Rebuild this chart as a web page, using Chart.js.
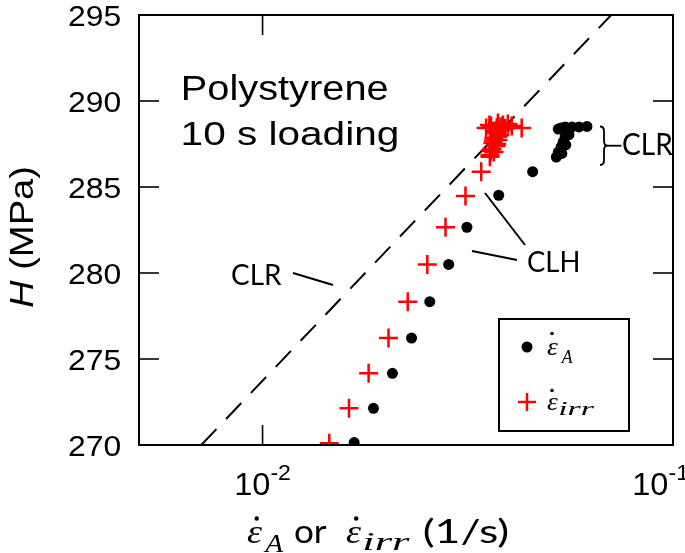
<!DOCTYPE html>
<html>
<head>
<meta charset="utf-8">
<script src="https://cdn.jsdelivr.net/npm/chart.js@4.4.1/dist/chart.umd.min.js"></script>
<style>
  html, body { margin: 0; padding: 0; background: #fff; }
  canvas { display: block; }
</style>
</head>
<body>
<canvas id="chart" width="685" height="553"></canvas>
<script>
// values (rate in 1/s, H in MPa)
const rateA = [0.01672, 0.01863, 0.02072, 0.02307, 0.02555, 0.02841, 0.03147, 0.03762, 0.04550,
  0.05254, 0.05339, 0.05460, 0.05677, 0.05902, 0.06172,
  0.05524, 0.05580, 0.05460, 0.05400, 0.05480, 0.05339, 0.05254, 0.05360, 0.05196];
const hardA = [270.14, 272.13, 274.17, 276.22, 278.33, 280.50, 282.66, 284.52, 285.89,
  288.37, 288.43, 288.49, 288.49, 288.49, 288.52,
  288.20, 288.05, 287.91, 287.62, 287.45, 287.33, 287.03, 286.95, 286.74];

const rateIrr = [0.01454, 0.01624, 0.01813, 0.02027, 0.02258, 0.02520, 0.02791, 0.03122, 0.03410, 0.03581,
  0.03505, 0.03602, 0.03745, 0.03850, 0.03959, 0.04047, 0.04279, 0.03807, 0.03703, 0.03786,
  0.03662, 0.03745, 0.03641, 0.03703, 0.03622, 0.03662, 0.03583,
  0.03720, 0.03800, 0.03680, 0.03750, 0.03650, 0.03720, 0.03600, 0.03900, 0.03570];
const hardIrr = [270.10, 272.13, 274.17, 276.22, 278.33, 280.50, 282.66, 284.48, 285.89, 286.76,
  288.43, 288.55, 288.72, 288.60, 288.66, 288.55, 288.43, 288.31, 288.14, 288.02,
  287.85, 287.73, 287.56, 287.38, 287.21, 287.03, 286.86,
  288.45, 288.50, 288.25, 287.95, 287.70, 287.50, 287.10, 288.40, 288.60];

// CLR guide line (dashed)
const clrRate = [0.00709, 0.0707];
const clrHard = [270, 295];

const xTicks = [0.01, 0.1];
const xTickSup = ['-2', '-1'];
const yTicks = [270, 275, 280, 285, 290, 295];

const SANS = '"Liberation Sans", Arial, sans-serif';
const CAL = 'Lato, "Open Sans", sans-serif';
const SERIF = '"Liberation Serif", "DejaVu Serif", serif';

// draw text; opt.w = ink width to fit, opt.sx = fixed horizontal stretch
function drawText(ctx, text, x, base, font, opt = {}) {
  ctx.save();
  ctx.font = font;
  ctx.textAlign = 'left';
  ctx.textBaseline = 'alphabetic';
  const m = ctx.measureText(text);
  const ink = m.actualBoundingBoxLeft + m.actualBoundingBoxRight;
  const sx = opt.w ? opt.w / ink : (opt.sx || 1);
  const w = ink * sx;
  let left = x;
  if (opt.align === 'right') left = x - w;
  if (opt.align === 'center') left = x - w / 2;
  ctx.translate(left + m.actualBoundingBoxLeft * sx, base);
  ctx.scale(sx, 1);
  ctx.fillText(text, 0, 0);
  ctx.restore();
  return left + w;
}

function dotAbove(ctx, x, y, r) {
  ctx.beginPath();
  ctx.arc(x, y, r, 0, Math.PI * 2);
  ctx.fill();
}

function line(ctx, x1, y1, x2, y2) {
  ctx.beginPath();
  ctx.moveTo(x1, y1);
  ctx.lineTo(x2, y2);
  ctx.stroke();
}

const decor = {
  id: 'decor',
  afterDraw(chart) {
    const { ctx, chartArea: a, scales: { x, y } } = chart;
    ctx.save();
    ctx.strokeStyle = '#000';
    ctx.fillStyle = '#000';

    // frame + inward ticks on all sides
    ctx.lineWidth = 2;
    ctx.strokeRect(a.left, a.top, a.right - a.left, a.bottom - a.top);
    ctx.lineWidth = 1.6;
    y.ticks.forEach((t, i) => {
      const py = y.getPixelForTick(i);
      line(ctx, a.left, py, a.left + 20, py);
      line(ctx, a.right, py, a.right - 20, py);
    });
    x.ticks.forEach((t, i) => {
      const px = x.getPixelForTick(i);
      line(ctx, px, a.bottom, px, a.bottom - 20);
      line(ctx, px, a.top, px, a.top + 20);
    });

    // y tick labels
    y.ticks.forEach((t, i) => {
      const py = y.getPixelForTick(i);
      drawText(ctx, String(t.value), 120, py + 11, '29px ' + SANS, { sx: 1.1, align: 'right' });
    });

    // x tick labels 10^n
    xTicks.forEach((v, i) => {
      const px = x.getPixelForValue(v);
      ctx.font = '31px ' + SANS;
      const w1 = ctx.measureText('10').width * 1.05;
      ctx.font = '22px ' + SANS;
      const w2 = ctx.measureText(xTickSup[i]).width * 1.05;
      const left = Math.min(px - (w1 + w2) / 2, chart.width + 4 - (w1 + w2));
      ctx.save();
      ctx.translate(left, 495);
      ctx.scale(1.05, 1);
      ctx.font = '31px ' + SANS;
      ctx.fillText('10', 0, 0);
      ctx.font = '22px ' + SANS;
      ctx.fillText(xTickSup[i], w1 / 1.05, -15);
      ctx.restore();
    });

    // y axis title
    ctx.save();
    ctx.translate(33, 237);
    ctx.rotate(-Math.PI / 2);
    ctx.font = 'italic 33px ' + SANS;
    const wH = ctx.measureText('H').width;
    ctx.font = '33px ' + SANS;
    const wR = ctx.measureText(' (MPa)').width;
    const s = 142 / (wH + wR);
    ctx.scale(s, 1);
    ctx.font = 'italic 33px ' + SANS;
    ctx.fillText('H', -(wH + wR) / 2, 0);
    ctx.font = '33px ' + SANS;
    ctx.fillText(' (MPa)', -(wH + wR) / 2 + wH, 0);
    ctx.restore();

    // x axis title
    drawText(ctx, 'ε', 247, 543, 'italic 33px ' + SERIF, { w: 15 });
    dotAbove(ctx, 256.7, 518.5, 2.2);
    drawText(ctx, 'A', 263, 552, 'italic 25px ' + SERIF, { w: 21 });
    drawText(ctx, 'or', 295, 543, '32px ' + CAL, { w: 32 });
    drawText(ctx, 'ε', 346, 543, 'italic 33px ' + SERIF, { w: 15 });
    dotAbove(ctx, 356.2, 518.5, 2.2);
    drawText(ctx, 'irr', 364, 550, 'italic 25px ' + SERIF, { w: 46 });
    drawText(ctx, '(1/s)', 424, 543, '33px ' + CAL, { w: 84 });

    // inner labels
    drawText(ctx, 'Polystyrene', 183, 100, '35px ' + SANS, { w: 204 });
    drawText(ctx, '10 s loading', 183, 145, '34px ' + SANS, { w: 214 });

    ctx.lineWidth = 2;
    drawText(ctx, 'CLR', 232, 285, '28px ' + CAL, { w: 50 });
    line(ctx, 293, 273, 333, 285);

    drawText(ctx, 'CLH', 528, 272, '28px ' + CAL, { w: 50 });
    line(ctx, 485, 193, 525, 245);
    line(ctx, 472, 251, 517, 260);

    // brace + CLR on the right
    ctx.lineWidth = 1.8;
    ctx.beginPath();
    ctx.moveTo(600, 126.5);
    ctx.quadraticCurveTo(604, 126.5, 604, 131);
    ctx.lineTo(604, 141);
    ctx.quadraticCurveTo(604, 145.7, 607.5, 145.7);
    ctx.quadraticCurveTo(604, 145.7, 604, 150.5);
    ctx.lineTo(604, 160.5);
    ctx.quadraticCurveTo(604, 165, 600, 165);
    ctx.stroke();
    line(ctx, 607, 145.7, 621.5, 145.7);
    drawText(ctx, 'CLR', 623, 155, '30px ' + CAL, { w: 50 });

    // legend
    ctx.lineWidth = 2;
    ctx.strokeRect(499, 319, 130, 112);
    Chart.helpers.drawPoint(ctx, { pointStyle: 'circle', radius: 5.5, borderWidth: 0 }, 527, 347);
    drawText(ctx, 'ε', 547, 355, 'italic 25px ' + SERIF, { w: 11 });
    dotAbove(ctx, 552, 333.5, 1.8);
    drawText(ctx, 'A', 560, 363, 'italic 19px ' + SERIF, { w: 13 });
    ctx.strokeStyle = '#f00';
    ctx.lineWidth = 2.5;
    Chart.helpers.drawPoint(ctx, { pointStyle: 'cross', radius: 9, borderWidth: 2.5 }, 527, 402);
    drawText(ctx, 'ε', 547, 410, 'italic 25px ' + SERIF, { w: 11 });
    dotAbove(ctx, 552, 390.5, 1.8);
    drawText(ctx, 'irr', 560, 415, 'italic 19px ' + SERIF, { w: 35 });

    ctx.restore();
  }
};

const toPts = (xs, ys) => xs.map((v, i) => ({ x: v, y: ys[i] }));

new Chart(document.getElementById('chart'), {
  type: 'scatter',
  data: {
    datasets: [
      {
        type: 'line',
        data: toPts(clrRate, clrHard),
        borderColor: '#000',
        borderWidth: 2,
        borderDash: [22, 14],
        pointRadius: 0,
        fill: false,
        order: 3
      },
      {
        data: toPts(rateA, hardA),
        pointStyle: 'circle',
        pointRadius: 5.5,
        backgroundColor: '#000',
        borderWidth: 0,
        order: 2
      },
      {
        data: toPts(rateIrr, hardIrr),
        pointStyle: 'cross',
        pointRadius: 9.5,
        borderColor: '#f00',
        borderWidth: 2.5,
        order: 1
      }
    ]
  },
  options: {
    responsive: false,
    animation: false,
    devicePixelRatio: 1,
    layout: { padding: { top: 15, right: 6, left: 0, bottom: 0 } },
    plugins: { legend: { display: false }, tooltip: { enabled: false } },
    scales: {
      x: {
        type: 'logarithmic',
        min: 0.005,
        max: 0.1,
        afterBuildTicks(s) { s.ticks = xTicks.map(v => ({ value: v })); },
        ticks: { display: false },
        grid: { display: false },
        border: { display: false },
        afterFit(s) { s.height = 108; }
      },
      y: {
        min: 270,
        max: 295,
        afterBuildTicks(s) { s.ticks = yTicks.map(v => ({ value: v })); },
        ticks: { display: false },
        grid: { display: false },
        border: { display: false },
        afterFit(s) { s.width = 139; }
      }
    }
  },
  plugins: [decor]
});
</script>
</body>
</html>
